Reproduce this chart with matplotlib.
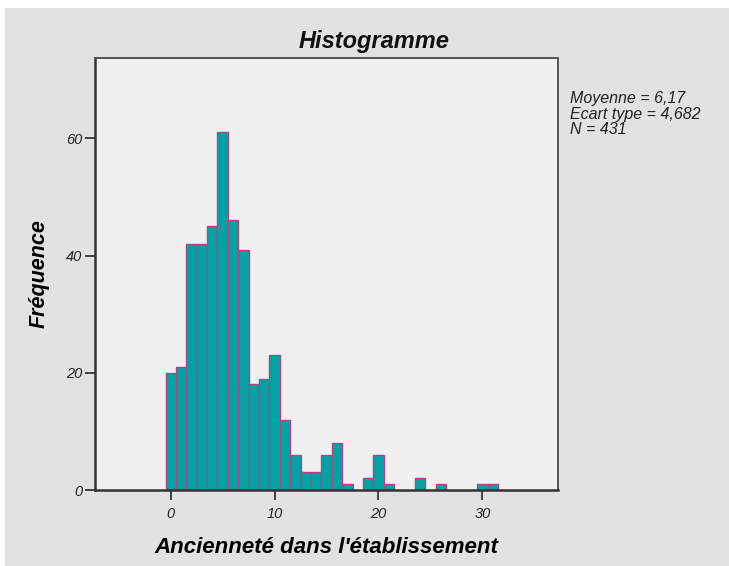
import matplotlib
matplotlib.use("Agg")
import matplotlib.pyplot as plt
from matplotlib.patches import Rectangle

plt.rcParams['font.family'] = ['Liberation Sans', 'DejaVu Sans']

# years in the establishment (bin centres) and how many people per bin
years = [0, 1, 2, 3, 4, 5, 6, 7, 8, 9, 10, 11, 12, 13, 14, 15, 16, 17,
         19, 20, 21, 24, 26, 30, 31]
counts = [20, 21, 42, 42, 45, 61, 46, 41, 18, 19, 23, 12, 6, 3, 3, 6, 8, 1,
          2, 6, 1, 2, 1, 1, 1]

x_ticks = [0, 10, 20, 30]
y_ticks = [0, 20, 40, 60]
stats_text = "Moyenne = 6,17\nEcart type = 4,682\nN = 431"

fig = plt.figure(figsize=(7.29, 5.66), dpi=100)
fig.patch.set_facecolor('white')
# grey chart frame (white strip at top and left)
frame = Rectangle((5/729, 0), 1, 1 - 8/566, transform=fig.transFigure,
                  facecolor='#e2e2e2', edgecolor='none', zorder=-10)
fig.add_artist(frame)

ax = fig.add_axes([95/729, 1 - 490/566, (558-95)/729, (490-58)/566])
ax.set_facecolor('#f0f0f0')

ax.bar(years, counts, width=1.0, color='#00a3a3', edgecolor='#b24486',
       linewidth=1.0, zorder=2)

ax.set_xlim(-7.29, 37.28)
ax.set_ylim(0, 73.7)
ax.set_xticks(x_ticks)
ax.set_yticks(y_ticks)
ax.tick_params(direction='out', length=7, width=1.3, color='#333333',
               labelsize=10.5, pad=2)
ax.tick_params(axis='x', pad=5)
for lab in ax.get_xticklabels() + ax.get_yticklabels():
    lab.set_fontstyle('italic')
    lab.set_color('#222222')

for side in ['left', 'bottom']:
    ax.spines[side].set_color('#333333')
    ax.spines[side].set_linewidth(1.8)
for side in ['top', 'right']:
    ax.spines[side].set_color('#555555')
    ax.spines[side].set_linewidth(1.4)

ax.set_xlabel("Ancienneté dans l'établissement", fontsize=16, fontweight='bold',
              fontstyle='italic', labelpad=12)
ax.set_ylabel("Fréquence", fontsize=15.5, fontweight='bold', fontstyle='italic',
              labelpad=12)

fig.text(374/729, 1 - 48/566, "Histogramme", fontsize=17, fontweight='bold',
         fontstyle='italic', ha='center', va='baseline', color='#111111')

fig.text(570/729, 1 - 91/566, stats_text, fontsize=11.5, fontstyle='italic',
         ha='left', va='top', linespacing=1.05, color='#222222')

fig.savefig('out.png', dpi=100, facecolor=fig.get_facecolor())
